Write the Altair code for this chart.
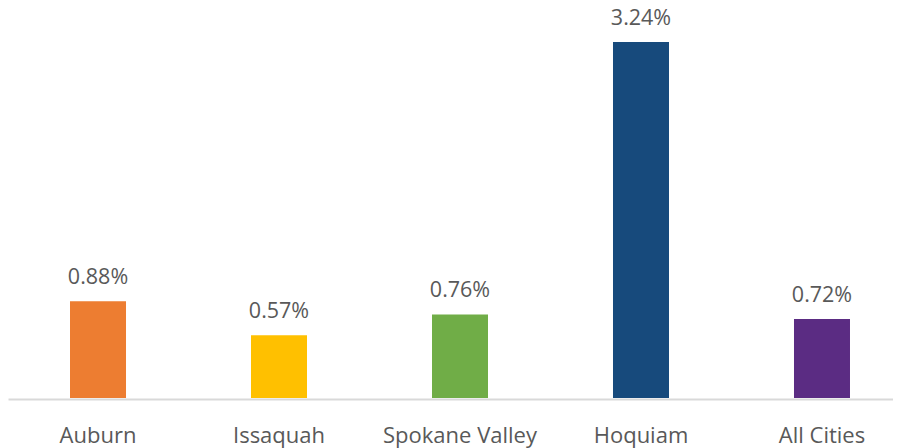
import altair as alt
import pandas as pd

cities = ["Auburn", "Issaquah", "Spokane Valley", "Hoquiam", "All Cities"]
values = [0.88, 0.57, 0.76, 3.24, 0.72]
labels = ["0.88%", "0.57%", "0.76%", "3.24%", "0.72%"]
colors = ["#ED7D31", "#FFC000", "#70AD47", "#174A7C", "#5B2C83"]

df = pd.DataFrame({"city": cities, "value": values, "label": labels})

shift = 9.5
xscale = alt.Scale(paddingInner=0.69, paddingOuter=0.2898)
x = alt.X("city:N", sort=cities, title=None, scale=xscale,
          axis=alt.Axis(labelAngle=0, ticks=False, domainColor="#D9D9D9", domainWidth=2,
                        offset=1, labelOffset=shift,
                        labelFont="Open Sans", labelFontSize=22, labelColor="#595959",
                        labelBaseline="alphabetic", labelPadding=43, grid=False))
y = alt.Y("value:Q", scale=alt.Scale(domain=[0, 3.549], nice=False), axis=None)

bars = alt.Chart(df).mark_bar(size=56, xOffset=shift).encode(
    x=x, y=y,
    color=alt.Color("city:N", scale=alt.Scale(domain=cities, range=colors), legend=None),
)
text = alt.Chart(df).mark_text(dy=-17, dx=shift, baseline="alphabetic", font="Open Sans",
                               fontSize=21.5, color="#595959").encode(
    x=alt.X("city:N", sort=cities, scale=xscale), y=y, text="label:N")

chart = (bars + text).properties(
    width=885, height=390,
    autosize=alt.AutoSizeParams(type="none"),
    padding={"left": 0, "top": 0, "right": 0, "bottom": 50},
).configure_view(stroke=None)

chart.save("out.html", embed_options={"renderer": "svg", "actions": False})
